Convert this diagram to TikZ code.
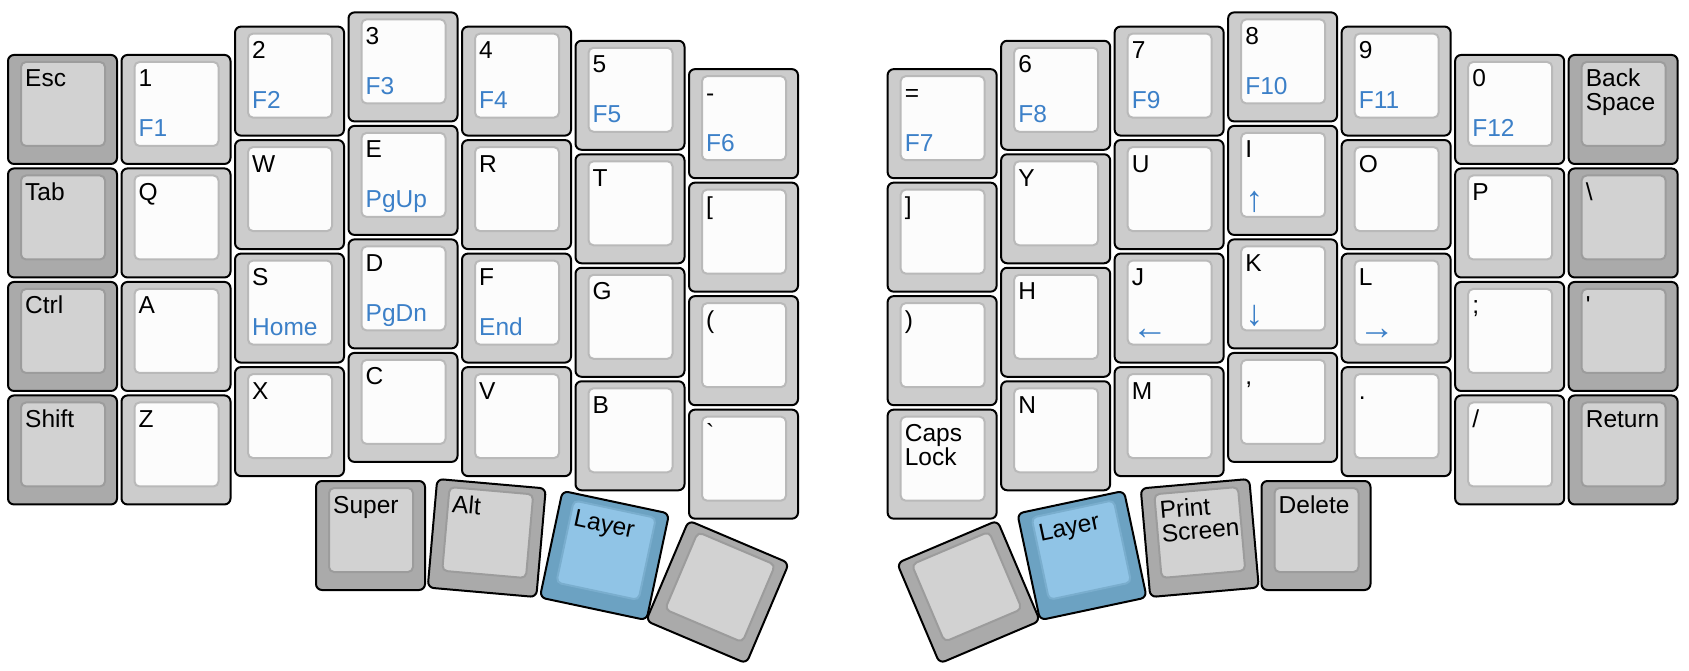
\documentclass[tikz,border=0pt]{standalone}
\usepackage{fontspec}
\newfontfamily\kfont{Liberation Sans}
\definecolor{normout}{HTML}{CCCCCC}
\definecolor{normin}{HTML}{FCFCFC}
\definecolor{normbd}{HTML}{B9B9B9}
\definecolor{modout}{HTML}{AAAAAA}
\definecolor{modin}{HTML}{D2D2D2}
\definecolor{modbd}{HTML}{9C9C9C}
\definecolor{layout}{HTML}{6CA2C2}
\definecolor{layin}{HTML}{90C4E6}
\definecolor{laybd}{HTML}{7AAECE}
\definecolor{subblue}{HTML}{3C80C8}
\tikzset{
  keyout/.style={line width=2pt, draw=black, rounded corners=6pt},
  keyin/.style={line width=2pt, rounded corners=5pt},
  toplbl/.style={anchor=base west, inner sep=0pt, transform shape, text=black, font=\kfont\fontsize{24.5}{28}\selectfont},
  botlbl/.style={anchor=base west, inner sep=0pt, transform shape, text=subblue, font=\kfont\fontsize{24.5}{28}\selectfont},
}
\newcommand\arr[1]{\raisebox{-4pt}{\fontsize{36}{40}\selectfont #1}}
% center x, center y, angle, style, line1, line2, bottom legend
\newcommand\kbkey[7]{%
  \begin{scope}[shift={({#1},{#2})},rotate=#3,shift={(-55.5,-55.5)}]
    \draw[keyout, fill=#4out] (1,1) rectangle (110,110);
    \draw[keyin, draw=#4bd, fill=#4in] (14,8) rectangle (98,92);
    \if\relax\detokenize{#5}\relax\else\node[toplbl] at (18,33) {#5};\fi
    \if\relax\detokenize{#6}\relax\else\node[toplbl] at (18,56.5) {#6};\fi
    \if\relax\detokenize{#7}\relax\else\node[botlbl] at (18,83) {#7};\fi
  \end{scope}}
% column (units), vertical offset (units), style, line1, line2, bottom
\newcommand\mk[6]{\kbkey{62.5+113.5*#1}{66.9+113.5*#2}{0}{#3}{#4}{#5}{#6}}
\begin{document}
\begin{tikzpicture}[x=1pt,y=-1pt]
\useasboundingbox (0,0) rectangle (1689,671);
% ---- left half ----
\mk{0}{0.375}{mod}{Esc}{}{}
\mk{0}{1.375}{mod}{Tab}{}{}
\mk{0}{2.375}{mod}{Ctrl}{}{}
\mk{0}{3.375}{mod}{Shift}{}{}
\mk{1}{0.375}{norm}{1}{}{F1}
\mk{1}{1.375}{norm}{Q}{}{}
\mk{1}{2.375}{norm}{A}{}{}
\mk{1}{3.375}{norm}{Z}{}{}
\mk{2}{0.125}{norm}{2}{}{F2}
\mk{2}{1.125}{norm}{W}{}{}
\mk{2}{2.125}{norm}{S}{}{Home}
\mk{2}{3.125}{norm}{X}{}{}
\mk{3}{0}{norm}{3}{}{F3}
\mk{3}{1}{norm}{E}{}{PgUp}
\mk{3}{2}{norm}{D}{}{PgDn}
\mk{3}{3}{norm}{C}{}{}
\mk{4}{0.125}{norm}{4}{}{F4}
\mk{4}{1.125}{norm}{R}{}{}
\mk{4}{2.125}{norm}{F}{}{End}
\mk{4}{3.125}{norm}{V}{}{}
\mk{5}{0.25}{norm}{5}{}{F5}
\mk{5}{1.25}{norm}{T}{}{}
\mk{5}{2.25}{norm}{G}{}{}
\mk{5}{3.25}{norm}{B}{}{}
\mk{6}{0.5}{norm}{-}{}{F6}
\mk{6}{1.5}{norm}{[}{}{}
\mk{6}{2.5}{norm}{(}{}{}
\mk{6}{3.5}{norm}{\symbol{96}}{}{}
% ---- right half ----
\mk{7.75}{0.5}{norm}{=}{}{F7}
\mk{7.75}{1.5}{norm}{]}{}{}
\mk{7.75}{2.5}{norm}{)}{}{}
\mk{7.75}{3.5}{norm}{Caps}{Lock}{}
\mk{8.75}{0.25}{norm}{6}{}{F8}
\mk{8.75}{1.25}{norm}{Y}{}{}
\mk{8.75}{2.25}{norm}{H}{}{}
\mk{8.75}{3.25}{norm}{N}{}{}
\mk{9.75}{0.125}{norm}{7}{}{F9}
\mk{9.75}{1.125}{norm}{U}{}{}
\mk{9.75}{2.125}{norm}{J}{}{\arr{←}}
\mk{9.75}{3.125}{norm}{M}{}{}
\mk{10.75}{0}{norm}{8}{}{F10}
\mk{10.75}{1}{norm}{I}{}{\arr{↑}}
\mk{10.75}{2}{norm}{K}{}{\arr{↓}}
\mk{10.75}{3}{norm}{,}{}{}
\mk{11.75}{0.125}{norm}{9}{}{F11}
\mk{11.75}{1.125}{norm}{O}{}{}
\mk{11.75}{2.125}{norm}{L}{}{\arr{→}}
\mk{11.75}{3.125}{norm}{.}{}{}
\mk{12.75}{0.375}{norm}{0}{}{F12}
\mk{12.75}{1.375}{norm}{P}{}{}
\mk{12.75}{2.375}{norm}{;}{}{}
\mk{12.75}{3.375}{norm}{/}{}{}
\mk{13.75}{0.375}{mod}{Back}{Space}{}
\mk{13.75}{1.375}{mod}{\symbol{92}}{}{}
\mk{13.75}{2.375}{mod}{\symbol{39}}{}{}
\mk{13.75}{3.375}{mod}{Return}{}{}
% ---- thumb clusters ----
\kbkey{370.5}{535.5}{0}{mod}{Super}{}{}
\kbkey{486.75}{538}{-5}{mod}{Alt}{}{}
\kbkey{604.5}{555.5}{-12}{lay}{Layer}{}{}
\kbkey{717.5}{592}{-23}{mod}{}{}{}
\kbkey{968.5}{592}{23}{mod}{}{}{}
\kbkey{1082}{555.5}{12}{lay}{Layer}{}{}
\kbkey{1199.75}{538}{5}{mod}{Print}{Screen}{}
\kbkey{1316}{535.5}{0}{mod}{Delete}{}{}
\end{tikzpicture}
\end{document}
